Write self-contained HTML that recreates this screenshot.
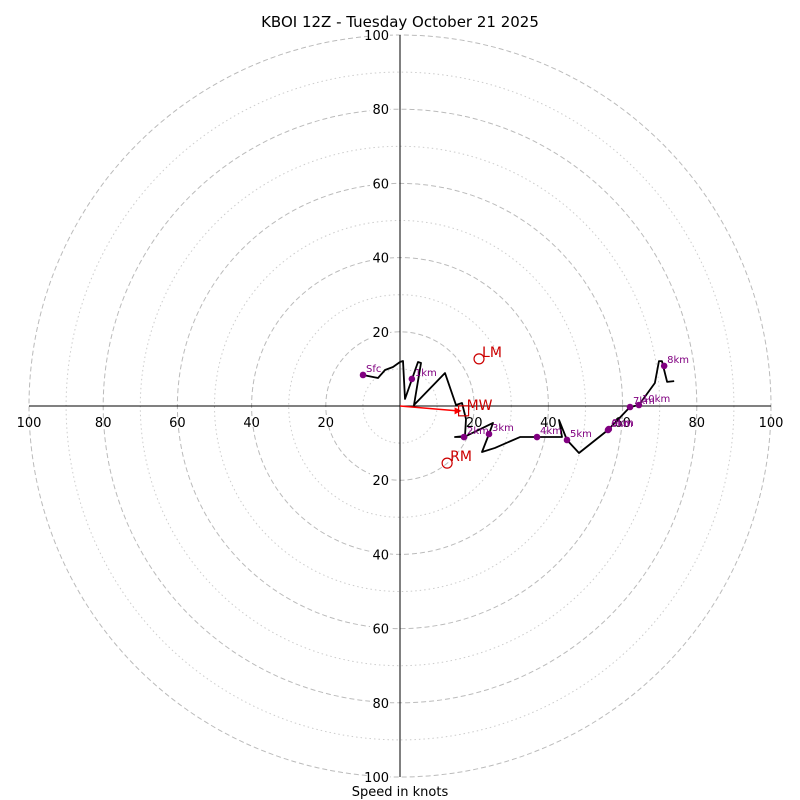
<!DOCTYPE html>
<html><head><meta charset="utf-8"><style>
body{margin:0;background:#fff}
svg{display:block;font-family:"DejaVu Sans","Liberation Sans",sans-serif}
</style></head><body>
<svg id="c" width="800" height="800"></svg>
<script>
const ringsMajor=[20,40,60,80,100];
const ringsMinor=[10,30,50,70,90];
const tickLabels=["20","40","60","80","100"];
const traceU=[-9.97,-5.93,-4.04,-1.89,0,0.81,1.35,4.85,5.66,3.77,12.13,15.09,16.71,17.79,17.52,14.82,17.25,25.07,23.99,22.10,25.6,32.35,36.93,43.67,42.86,45.01,48.25,56.06,62.0,64.4,68.7,69.8,70.6,72.0,73.9];
const traceV=[8.36,7.55,9.70,10.51,11.86,12.13,1.89,11.86,11.59,0.27,8.89,0.27,0.81,-3.50,-8.09,-8.36,-8.36,-4.58,-7.55,-12.40,-11.3,-8.36,-8.36,-8.36,-3.77,-9.16,-12.67,-6.47,-0.27,0.27,6.2,12.1,12.1,6.5,6.7];
const markerLabels=["Sfc","1km","2km","3km","4km","5km","6km","9km","7km","10km","8km"];
const markerU=[-9.97,3.2,17.25,23.99,36.93,45.01,56.06,56.3,62.0,64.4,71.2];
const markerV=[8.36,7.3,-8.36,-7.55,-8.36,-9.16,-6.47,-6.2,-0.27,0.27,10.8];
const lmUV=[21.3,12.7], rmUV=[12.7,-15.4], mwUV=[16.6,-1.3];
const cx=400,cy=406,k=3.71;
const X=u=>cx+u*k, Y=v=>cy-v*k;
const svg=document.getElementById('c');
const NS='http://www.w3.org/2000/svg';
function mk(t,a,p){const e=document.createElementNS(NS,t);for(const n in a)e.setAttribute(n,a[n]);(p||svg).appendChild(e);return e;}
let e;
e=mk('text',{x:400,y:27,'text-anchor':'middle','font-size':15});e.textContent='KBOI 12Z - Tuesday October 21 2025';


ringsMinor.forEach(r=>{e=mk('circle',{cx,cy,r:r*k,fill:'none',stroke:'#ccc','stroke-dasharray':'1.5,3'});

});
ringsMajor.forEach(r=>{e=mk('circle',{cx,cy,r:r*k,fill:'none',stroke:'#bbb','stroke-dasharray':'5,3'});

});
e=mk('line',{x1:X(-100),y1:cy,x2:X(100),y2:cy,stroke:'#000'});


e=mk('line',{x1:cx,y1:Y(100),x2:cx,y2:Y(-100),stroke:'#000'});


ringsMajor.forEach((r,i)=>{
 [-1,1].forEach(s=>{
  e=mk('text',{x:X(s*r),y:cy+21,'text-anchor':'middle','font-size':13});e.textContent=tickLabels[i];
  
  
  const ty=Y(s*r);
  mk('rect',{x:370,y:ty-8,width:20,height:15,fill:'#fff'});
  e=mk('text',{x:389,y:ty+5,'text-anchor':'end','font-size':13});e.textContent=tickLabels[i];
  
  
 });
});
e=mk('polyline',{points:traceU.map((u,i)=>X(u)+','+Y(traceV[i])).join(' '),fill:'none',stroke:'#000','stroke-width':1.8,'stroke-linejoin':'round'});


markerU.forEach((u,i)=>{
 e=mk('circle',{cx:X(u),cy:Y(markerV[i]),r:3.3,fill:'#800080'});
 
 
 e=mk('text',{x:X(u)+3,y:Y(markerV[i])-3,'font-size':10,fill:'#800080'});e.textContent=markerLabels[i];
 
 
});
e=mk('line',{x1:cx,y1:cy,x2:X(mwUV[0])-4,y2:Y(mwUV[1]),stroke:'red','stroke-width':1.5});


mk('polygon',{points:`${X(mwUV[0])},${Y(mwUV[1])} ${X(mwUV[0])-7},${Y(mwUV[1])-3.5} ${X(mwUV[0])-7},${Y(mwUV[1])+3.5}`,fill:'red'});
e=mk('rect',{x:X(mwUV[0])-3,y:Y(mwUV[1])-5,width:10,height:10,fill:'none',stroke:'#c00','stroke-width':1.2});


e=mk('text',{x:X(mwUV[0])+5,y:Y(mwUV[1])-1,'font-size':14,fill:'#c00'});e.textContent='MW';


[[lmUV,'LM'],[rmUV,'RM']].forEach(([p,t])=>{
 e=mk('circle',{cx:X(p[0]),cy:Y(p[1]),r:5,fill:'none',stroke:'#c00','stroke-width':1.2});
 
 
 e=mk('text',{x:X(p[0])+3,y:Y(p[1])-2,'font-size':14,fill:'#c00'});e.textContent=t;
 
 
});
e=mk('text',{x:400,y:796,'text-anchor':'middle','font-size':13});e.textContent='Speed in knots';


</script>
</body></html>
